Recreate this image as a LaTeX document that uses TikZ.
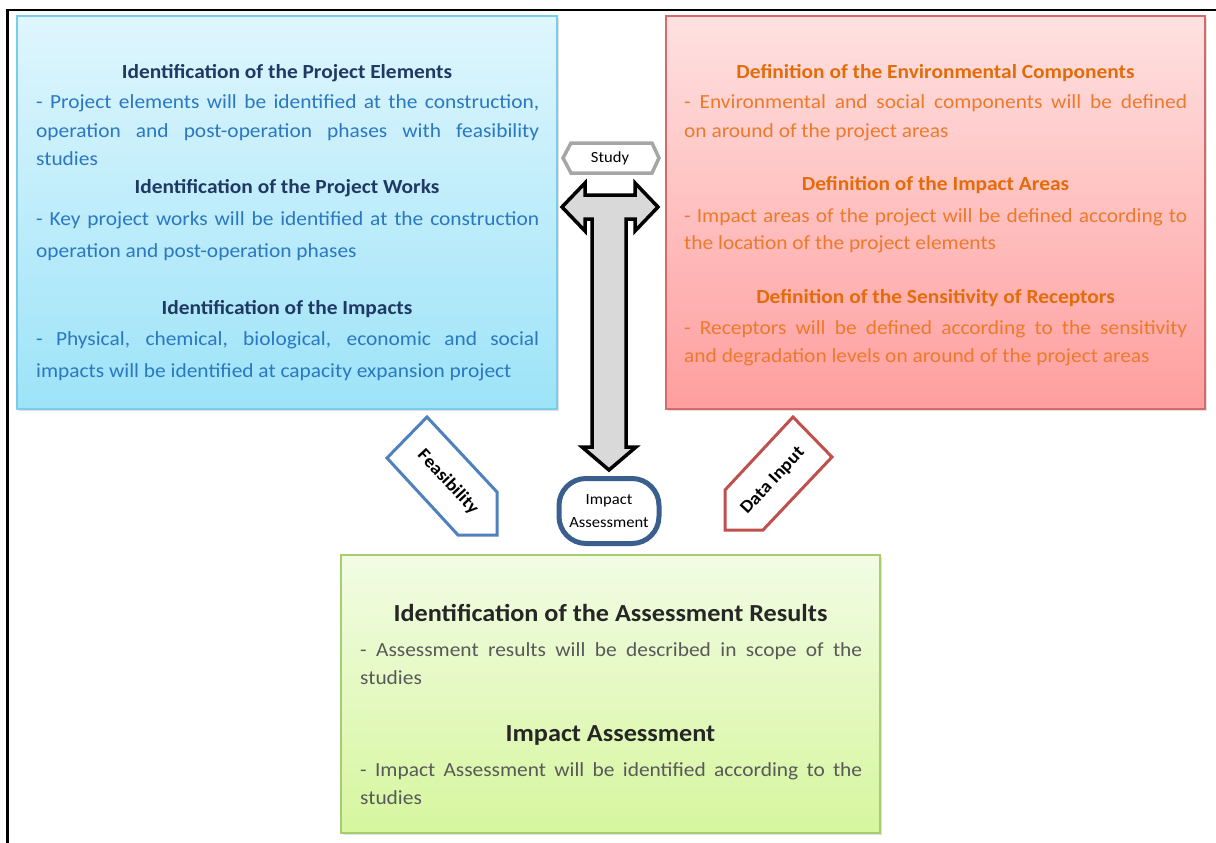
\documentclass[tikz,border=0pt]{standalone}
\usepackage{fontspec}
\setmainfont{Carlito}[FakeStretch=1.07]
\begin{document}
\definecolor{bluetop}{HTML}{DFF6FD}
\definecolor{bluebot}{HTML}{9DE3F8}
\definecolor{blueline}{HTML}{7ACDEA}
\definecolor{bluehead}{HTML}{1F3864}
\definecolor{bluetext}{HTML}{2A78C2}
\definecolor{redtop}{HTML}{FFE1E1}
\definecolor{redbot}{HTML}{FF9E9E}
\definecolor{redline}{HTML}{D46A6A}
\definecolor{orangehead}{HTML}{E36C0A}
\definecolor{orangetext}{HTML}{EC7A2A}
\definecolor{greentop}{HTML}{F2FCE4}
\definecolor{greenbot}{HTML}{D6F69E}
\definecolor{greenline}{HTML}{A8CC70}
\definecolor{darkhead}{HTML}{262626}
\definecolor{graytext}{HTML}{595959}
\definecolor{arrowfill}{HTML}{D9D9D9}
\definecolor{tagline}{HTML}{A6A6A6}
\definecolor{navyline}{HTML}{3A5F8E}
\definecolor{feasline}{HTML}{4F81BD}
\definecolor{dataline}{HTML}{C0504D}
\begin{tikzpicture}[x=1pt,y=-1pt,
  panel/.style={line width=1.2pt},
  shadowbox/.style={fill=black,opacity=0.12,draw=none},
  headline/.style={anchor=base,inner sep=0pt,font=\fontsize{20}{24}\selectfont\bfseries},
  bigheadline/.style={anchor=base,inner sep=0pt,font=\fontsize{24.5}{29}\selectfont\bfseries,text=darkhead},
  bodyline/.style={anchor=base west,inner sep=0pt,font=\fontsize{20}{24}\selectfont},
  bluebody/.style={bodyline,text=bluetext},
  redbody/.style={bodyline,text=orangetext},
  greenbody/.style={bodyline,text=graytext},
  tagshape/.style={draw=tagline,line width=3.5pt,fill=white,line join=miter},
  bigarrow/.style={draw=black,line width=3.5pt,fill=arrowfill,line join=miter},
  pentarrow/.style={line width=3pt,fill=white,line join=miter},
  smalltext/.style={inner sep=0pt,font=\fontsize{15.5}{17}\selectfont,align=center},
  pointertext/.style={inner sep=0pt,font=\fontsize{18}{20}\selectfont\bfseries}
]
\useasboundingbox (0,0) rectangle (1216,843);

% outer frame, top and left edges
\draw[line width=2.8pt] (7.5,843) -- (7.5,10) -- (1216,10);

% left panel: project elements
\fill[shadowbox] (19,18) rectangle (559,411);
\draw[panel,draw=blueline,top color=bluetop,bottom color=bluebot] (17,16) rectangle (557,409);
\node[headline,text=bluehead] (bt1) at (287,78) {Identification of the Project Elements};
\node[bluebody] (bb1) at (36,109) {\makebox[503pt][s]{- Project elements will be identified at the construction,}};
\node[bluebody] (bb2) at (36,137) {\makebox[503pt][s]{operation and post-operation phases with feasibility}};
\node[bluebody] (bb3) at (36,165) {studies};
\node[headline,text=bluehead] (bt2) at (287,193) {Identification of the Project Works};
\node[bluebody] (bb4) at (36,225) {\makebox[503pt][s]{- Key project works will be identified at the construction}};
\node[bluebody] (bb5) at (36,257) {operation and post-operation phases};
\node[headline,text=bluehead] (bt3) at (287,314) {Identification of the Impacts};
\node[bluebody] (bb6) at (36,345) {\makebox[503pt][s]{- Physical, chemical, biological, economic and social}};
\node[bluebody] (bb7) at (36,377) {impacts will be identified at capacity expansion project};

% right panel: environmental components
\fill[shadowbox] (668,18) rectangle (1207,411);
\draw[panel,draw=redline,top color=redtop,bottom color=redbot] (666,16) rectangle (1205,409);
\node[headline,text=orangehead] (rt1) at (935.5,78) {Definition of the Environmental Components};
\node[redbody] (rb1) at (684,109) {\makebox[503pt][s]{- Environmental and social components will be defined}};
\node[redbody] (rb2) at (684,137) {on around of the project areas};
\node[headline,text=orangehead] (rt2) at (935.5,190) {Definition of the Impact Areas};
\node[redbody] (rb3) at (684,222) {\makebox[503pt][s]{- Impact areas of the project will be defined according to}};
\node[redbody] (rb4) at (684,249) {the location of the project elements};
\node[headline,text=orangehead] (rt3) at (935.5,303) {Definition of the Sensitivity of Receptors};
\node[redbody] (rb5) at (684,334) {\makebox[503pt][s]{- Receptors will be defined according to the sensitivity}};
\node[redbody] (rb6) at (684,362) {and degradation levels on around of the project areas};

% bottom panel: assessment results
\fill[shadowbox] (343,557) rectangle (882,835);
\draw[panel,draw=greenline,top color=greentop,bottom color=greenbot] (341,555) rectangle (880,833);
\node[bigheadline] (gt1) at (610.5,621) {Identification of the Assessment Results};
\node[greenbody] (gb1) at (360,656) {\makebox[502pt][s]{- Assessment results will be described in scope of the}};
\node[greenbody] (gb2) at (360,684) {studies};
\node[bigheadline] (gt2) at (610.5,741) {Impact Assessment};
\node[greenbody] (gb3) at (360,776) {\makebox[502pt][s]{- Impact Assessment will be identified according to the}};
\node[greenbody] (gb4) at (360,804) {studies};

% study tag
\draw[tagshape] (563,158) -- (571,143) -- (652,143) -- (659,158) -- (652,173) -- (571,173) -- cycle;
\node[smalltext] (study) at (610,158) {Study};

% two-way arrow with downward stem
\draw[bigarrow] (562,207) -- (585,183) -- (585,195) -- (635,195) -- (635,183) -- (658,207)
  -- (635,231) -- (635,219) -- (626,219) -- (626,447) -- (636,447) -- (609,470)
  -- (582,447) -- (592,447) -- (592,219) -- (585,219) -- (585,231) -- cycle;

% impact assessment node
\node[draw=navyline,line width=5pt,fill=white,rounded corners=27pt,minimum width=100pt,minimum height=65pt,smalltext] (impact) at (609,511) {Impact\\[6pt]Assessment};

% feasibility pointer
\draw[pentarrow,draw=feasline] (427,417) -- (387,458) -- (458,535) -- (497,535) -- (497,492) -- cycle;
\node[pointertext,rotate=-47] (feas) at (448,482) {Feasibility};

% data input pointer
\draw[pentarrow,draw=dataline] (793,417) -- (832,457) -- (763,530) -- (725,530) -- (725,490) -- cycle;
\node[pointertext,rotate=47] (data) at (773,481) {Data Input};
\end{tikzpicture}
\end{document}
